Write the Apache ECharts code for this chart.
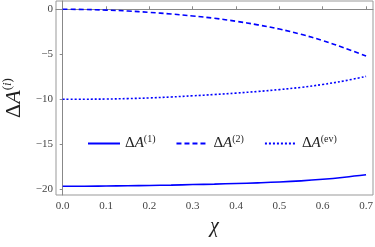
<!DOCTYPE html>
<html><head><meta charset="utf-8">
<script src="https://cdn.jsdelivr.net/npm/echarts@6/dist/echarts.min.js"></script>
<style>html,body{margin:0;padding:0;background:#fff}#c{width:375px;height:247px}</style>
</head><body><div id="c"></div>
<script>
const chi = [0,0.05,0.1,0.15,0.2,0.25,0.3,0.35,0.4,0.45,0.5,0.55,0.6,0.65,0.7];
const dA1 = [-19.65,-19.65,-19.63,-19.61,-19.57,-19.53,-19.47,-19.42,-19.35,-19.28,-19.19,-19.06,-18.88,-18.65,-18.38];
const dA2 = [0,-0.02,-0.09,-0.19,-0.34,-0.52,-0.74,-1.0,-1.33,-1.73,-2.2,-2.78,-3.48,-4.3,-5.2];
const dAev = [-10.0,-9.99,-9.97,-9.92,-9.85,-9.74,-9.61,-9.47,-9.31,-9.13,-8.92,-8.67,-8.35,-7.95,-7.45];
const xTicks = [0,0.1,0.2,0.3,0.4,0.5,0.6,0.7];
const yTicks = [-20,-15,-10,-5,0];
const names = ['ΔA(1)','ΔA(2)','ΔA(ev)'];
const sups = {'ΔA(1)':'(1)','ΔA(2)':'(2)','ΔA(ev)':'(ev)'};

const pair = (ys) => chi.map((x,i)=>[x,ys[i]]);
const serif = '"Liberation Serif","DejaVu Serif",serif';
const blue = '#0000ff';
const chart = echarts.init(document.getElementById('c'), null, {renderer:'canvas'});
const mk = (name, ys, type) => ({
  name, type:'line', data: pair(ys), symbol:'none', showSymbol:false, smooth:0.4,
  lineStyle:{color:blue, width:1.6, type}, itemStyle:{color:blue}
});
chart.setOption({
  animation:false,
  grid:{left:56,right:2,top:1,bottom:52,show:true,borderColor:'#999',borderWidth:1,outerBoundsMode:'none',containLabel:false},
  legend:{
    left:82, top:129, itemWidth:32, itemHeight:10, itemGap:20,
    data:names,
    itemStyle:{opacity:0},
    lineStyle:{opacity:1},
    formatter:(n)=>'{d|Δ}{a|A}{s|'+sups[n]+'}',
    textStyle:{fontFamily:serif,color:'#222',rich:{
      d:{fontSize:15,fontFamily:serif,color:'#222'},
      a:{fontSize:15,fontFamily:serif,fontStyle:'italic',color:'#222'},
      s:{fontSize:10,fontFamily:serif,color:'#222',padding:[0,0,9,0]}
    }}
  },
  xAxis:{
    type:'value', min:-0.0155, max:0.716,
    name:'χ', nameLocation:'middle', nameGap:20,
    nameTextStyle:{fontFamily:serif,fontSize:20,fontStyle:'italic',color:'#222'},
    axisLine:{show:true,lineStyle:{color:'#888'}},
    axisTick:{show:true,inside:true,length:3,customValues:xTicks,lineStyle:{color:'#888'}},
    axisLabel:{customValues:xTicks,formatter:(v)=>v.toFixed(1),fontFamily:serif,fontSize:11,color:'#444',margin:6},
    splitLine:{show:false}
  },
  yAxis:{
    type:'value', min:-20.63, max:0.92,
    name:'{d|Δ}{a|A}{s|(}{si|i}{s|)}', nameLocation:'middle', nameGap:29, nameRotate:90,
    nameTextStyle:{fontFamily:serif,color:'#222',rich:{
      d:{fontSize:22,fontFamily:serif,color:'#222'},
      a:{fontSize:22,fontFamily:serif,fontStyle:'italic',color:'#222'},
      s:{fontSize:13,fontFamily:serif,color:'#222',padding:[0,0,13,0]},
      si:{fontSize:13,fontFamily:serif,fontStyle:'italic',color:'#222',padding:[0,0,13,0]}
    }},
    axisLine:{show:true,lineStyle:{color:'#888'}},
    axisTick:{show:true,inside:false,length:3,customValues:yTicks,lineStyle:{color:'#888'}},
    axisLabel:{customValues:yTicks,formatter:(v)=>v<0?'\u2212'+Math.abs(v):String(v),fontFamily:serif,fontSize:11,color:'#444',margin:3},
    splitLine:{show:false}
  },
  series:[mk(names[0],dA1,'solid'),mk(names[1],dA2,[5,3]),mk(names[2],dAev,[2,2])]
});
</script></body></html>
